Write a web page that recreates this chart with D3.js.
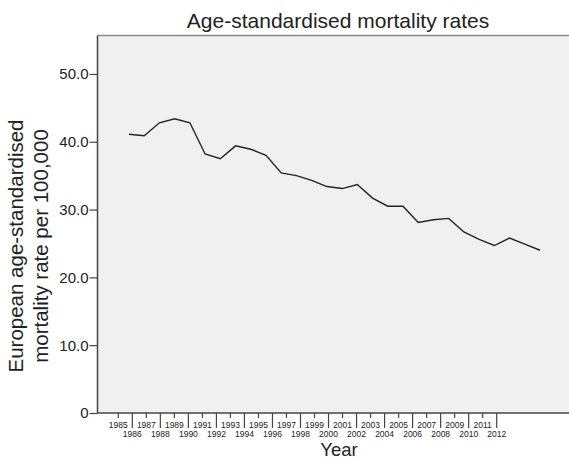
<!DOCTYPE html>
<html>
<head>
<meta charset="utf-8">
<script src="https://cdn.jsdelivr.net/npm/d3@7"></script>
<style>
body { margin: 0; background: #fff; }
text { font-family: "Liberation Sans", Arial, sans-serif; fill: #222; }
</style>
</head>
<body>
<svg id="chart" width="569" height="460"></svg>
<script>
const years = d3.range(1985, 2013);
const rates = [41.1, 40.9, 42.8, 43.4, 42.8, 38.2, 37.5, 39.4, 38.9, 38.0,
               35.4, 35.0, 34.3, 33.4, 33.1, 33.7, 31.7, 30.5, 30.5, 28.1,
               28.5, 28.7, 26.7, 25.6, 24.7, 25.8, 24.9, 24.0];
const yTicks = [0, 10, 20, 30, 40, 50];
const titleText = "Age-standardised mortality rates";
const yTitle = ["European age-standardised", "mortality rate per 100,000"];
const xTitle = "Year";

(function () {
const svg = d3.select("#chart");
const pL = 97, pR = 569, pT = 36, pB = 413;

const y = d3.scaleLinear().domain([0, 55.6]).range([pB, pT]);
const xAxisScale = d3.scalePoint().domain(years).range([118.3, 496.7]);
const xLine = d3.scalePoint().domain(years).range([129, 540]);

svg.append("rect").attr("x", pL).attr("y", pT)
  .attr("width", pR - pL).attr("height", pB - pT)
  .attr("fill", "#f0f0f0");
svg.append("line").attr("x1", pL).attr("x2", pR).attr("y1", pT - 0.5).attr("y2", pT - 0.5)
  .attr("stroke", "#888").attr("stroke-width", 1.5);

// Y axis
const yAxis = svg.append("g").attr("transform", `translate(${pL},0)`)
  .call(d3.axisLeft(y).tickValues(yTicks).tickSize(7.5).tickPadding(1)
    .tickFormat(d => d === 0 ? "0" : d3.format(".1f")(d)));
yAxis.select(".domain").attr("d", `M0.5,${pT}V${pB}`).attr("stroke", "#444").attr("stroke-width", 1.5);
yAxis.selectAll(".tick line").attr("stroke", "#444").attr("stroke-width", 1.2);
yAxis.selectAll(".tick text").attr("font-size", 15).attr("fill", "#333")
  .attr("font-family", "Liberation Sans, Arial, sans-serif");

// X axis
const xg = svg.append("g");
xg.append("line").attr("x1", pL).attr("x2", pR).attr("y1", pB).attr("y2", pB)
  .attr("stroke", "#444").attr("stroke-width", 1.5);
const tk = xg.selectAll(".xt").data(years).enter().append("g")
  .attr("transform", d => `translate(${xAxisScale(d)},${pB})`);
tk.append("line").attr("y1", 0).attr("y2", (d, i) => i % 2 === 0 ? 5 : 15)
  .attr("stroke", "#444").attr("stroke-width", 1.2);
tk.append("text").attr("text-anchor", "middle")
  .attr("y", (d, i) => i % 2 === 0 ? 14.5 : 24)
  .attr("font-size", 8.5).attr("fill", "#333")
  .text(d => d);

// Line
svg.append("path").datum(rates)
  .attr("fill", "none").attr("stroke", "#222").attr("stroke-width", 1.4)
  .attr("d", d3.line().x((d, i) => xLine(years[i])).y(d => y(d)));

// Titles
svg.append("text").attr("x", 338).attr("y", 28).attr("text-anchor", "middle")
  .attr("font-size", 21).text(titleText);
svg.append("text").attr("x", 339).attr("y", 456).attr("text-anchor", "middle")
  .attr("font-size", 18.5).text(xTitle);
yTitle.forEach((t, i) => {
  svg.append("text").attr("transform", `translate(${23 + i * 25},246) rotate(-90)`)
    .attr("text-anchor", "middle").attr("font-size", 20.5).text(t);
});
})();
</script>
</body>
</html>
